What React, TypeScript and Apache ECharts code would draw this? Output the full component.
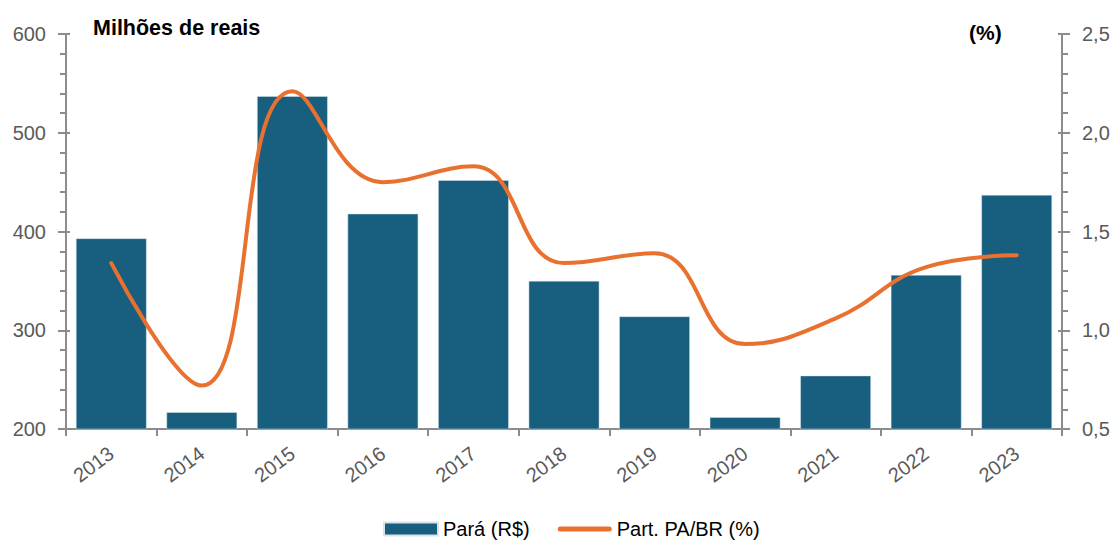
import React, { useEffect, useRef } from "react";
import * as echarts from "echarts";

const categories = ["2013", "2014", "2015", "2016", "2017", "2018", "2019", "2020", "2021", "2022", "2023"];
const paraValues = [393, 217, 537, 418, 452, 350, 314, 212, 254, 356, 437];
const shareValues = [1.34, 0.72, 2.21, 1.75, 1.83, 1.34, 1.39, 0.93, 1.06, 1.32, 1.38];
const leftTicks = { min: 200, max: 600, interval: 100 };
const rightTicks = { min: 0.5, max: 2.5, interval: 0.5 };

export default function App() {
  const ref = useRef<HTMLDivElement>(null);
  useEffect(() => {
    const chart = echarts.init(ref.current!, null, { renderer: "svg" });
    const axisColor = "#8c8c8c";
    const labelColor = "#595959";
    const font = "Liberation Sans, Arial, sans-serif";
    const yBase = (side: "left" | "right", t: any, labels: boolean) => ({
      type: "value",
      position: side,
      min: t.min,
      max: t.max,
      interval: t.interval,
      splitLine: { show: false },
      axisLine: { show: labels, lineStyle: { color: axisColor, width: 2 } },
      axisTick: labels
        ? { show: true, inside: false, length: 8, lineStyle: { color: axisColor, width: 2 } }
        : { show: true, inside: true, length: 4, lineStyle: { color: axisColor, width: 2 } },
      minorTick: { show: labels, splitNumber: 5, length: 6, lineStyle: { color: axisColor, width: 2 } },
      axisLabel: {
        show: labels,
        color: labelColor,
        fontSize: 20,
        fontFamily: font,
        margin: 20,
        formatter: side === "right" ? (v: number) => v.toFixed(1).replace(".", ",") : undefined,
      },
    });
    chart.setOption({
      animation: false,
      grid: { left: 66, right: 51, top: 34, bottom: 114 },
      title: [
        { text: "Milhões de reais", left: 88, top: 12, textStyle: { fontSize: 21.5, fontWeight: "bold", color: "#000", fontFamily: font } },
        { text: "(%)", left: 964, top: 17, textStyle: { fontSize: 21, fontWeight: "bold", color: "#000", fontFamily: font } },
      ],
      legend: {
        bottom: -1,
        left: 378,
        itemGap: 28,
        itemWidth: 54,
        itemHeight: 13,
        textStyle: { fontSize: 20, color: "#000", fontFamily: font },
        data: [
          { name: "Pará (R$)", icon: "rect" },
          {
            name: "Part. PA/BR (%)",
            icon: "path://M2.5,0 L51.5,0 A2.5,2.5 0 0 1 51.5,5 L2.5,5 A2.5,2.5 0 0 1 2.5,0 Z",
            itemStyle: { color: "#E8712F" },
          },
        ],
      },
      xAxis: {
        type: "category",
        data: categories,
        axisLine: { lineStyle: { color: axisColor, width: 2 } },
        axisTick: { show: true, length: 7, alignWithLabel: false, lineStyle: { color: axisColor, width: 2 } },
        axisLabel: { color: labelColor, fontSize: 20, fontFamily: font, rotate: 37, margin: 22 },
      },
      yAxis: [
        yBase("left", leftTicks, true),
        yBase("right", rightTicks, true),
        yBase("left", leftTicks, false),
        yBase("right", rightTicks, false),
      ],
      series: [
        {
          name: "Pará (R$)",
          type: "bar",
          data: paraValues,
          yAxisIndex: 0,
          barCategoryGap: "22%",
          itemStyle: { color: "#175E7F", borderColor: "#d9e4ea", borderWidth: 0.5 },
        },
        {
          name: "Part. PA/BR (%)",
          type: "line",
          data: shareValues,
          yAxisIndex: 1,
          smooth: 0.45,
          symbol: "none",
          lineStyle: { color: "#E8712F", width: 4, cap: "round" },
          itemStyle: { color: "#E8712F" },
        },
      ],
    });
    return () => chart.dispose();
  }, []);
  return <div ref={ref} style={{ width: 1113, height: 543, position: "absolute", left: 0, top: 0 }} />;
}
